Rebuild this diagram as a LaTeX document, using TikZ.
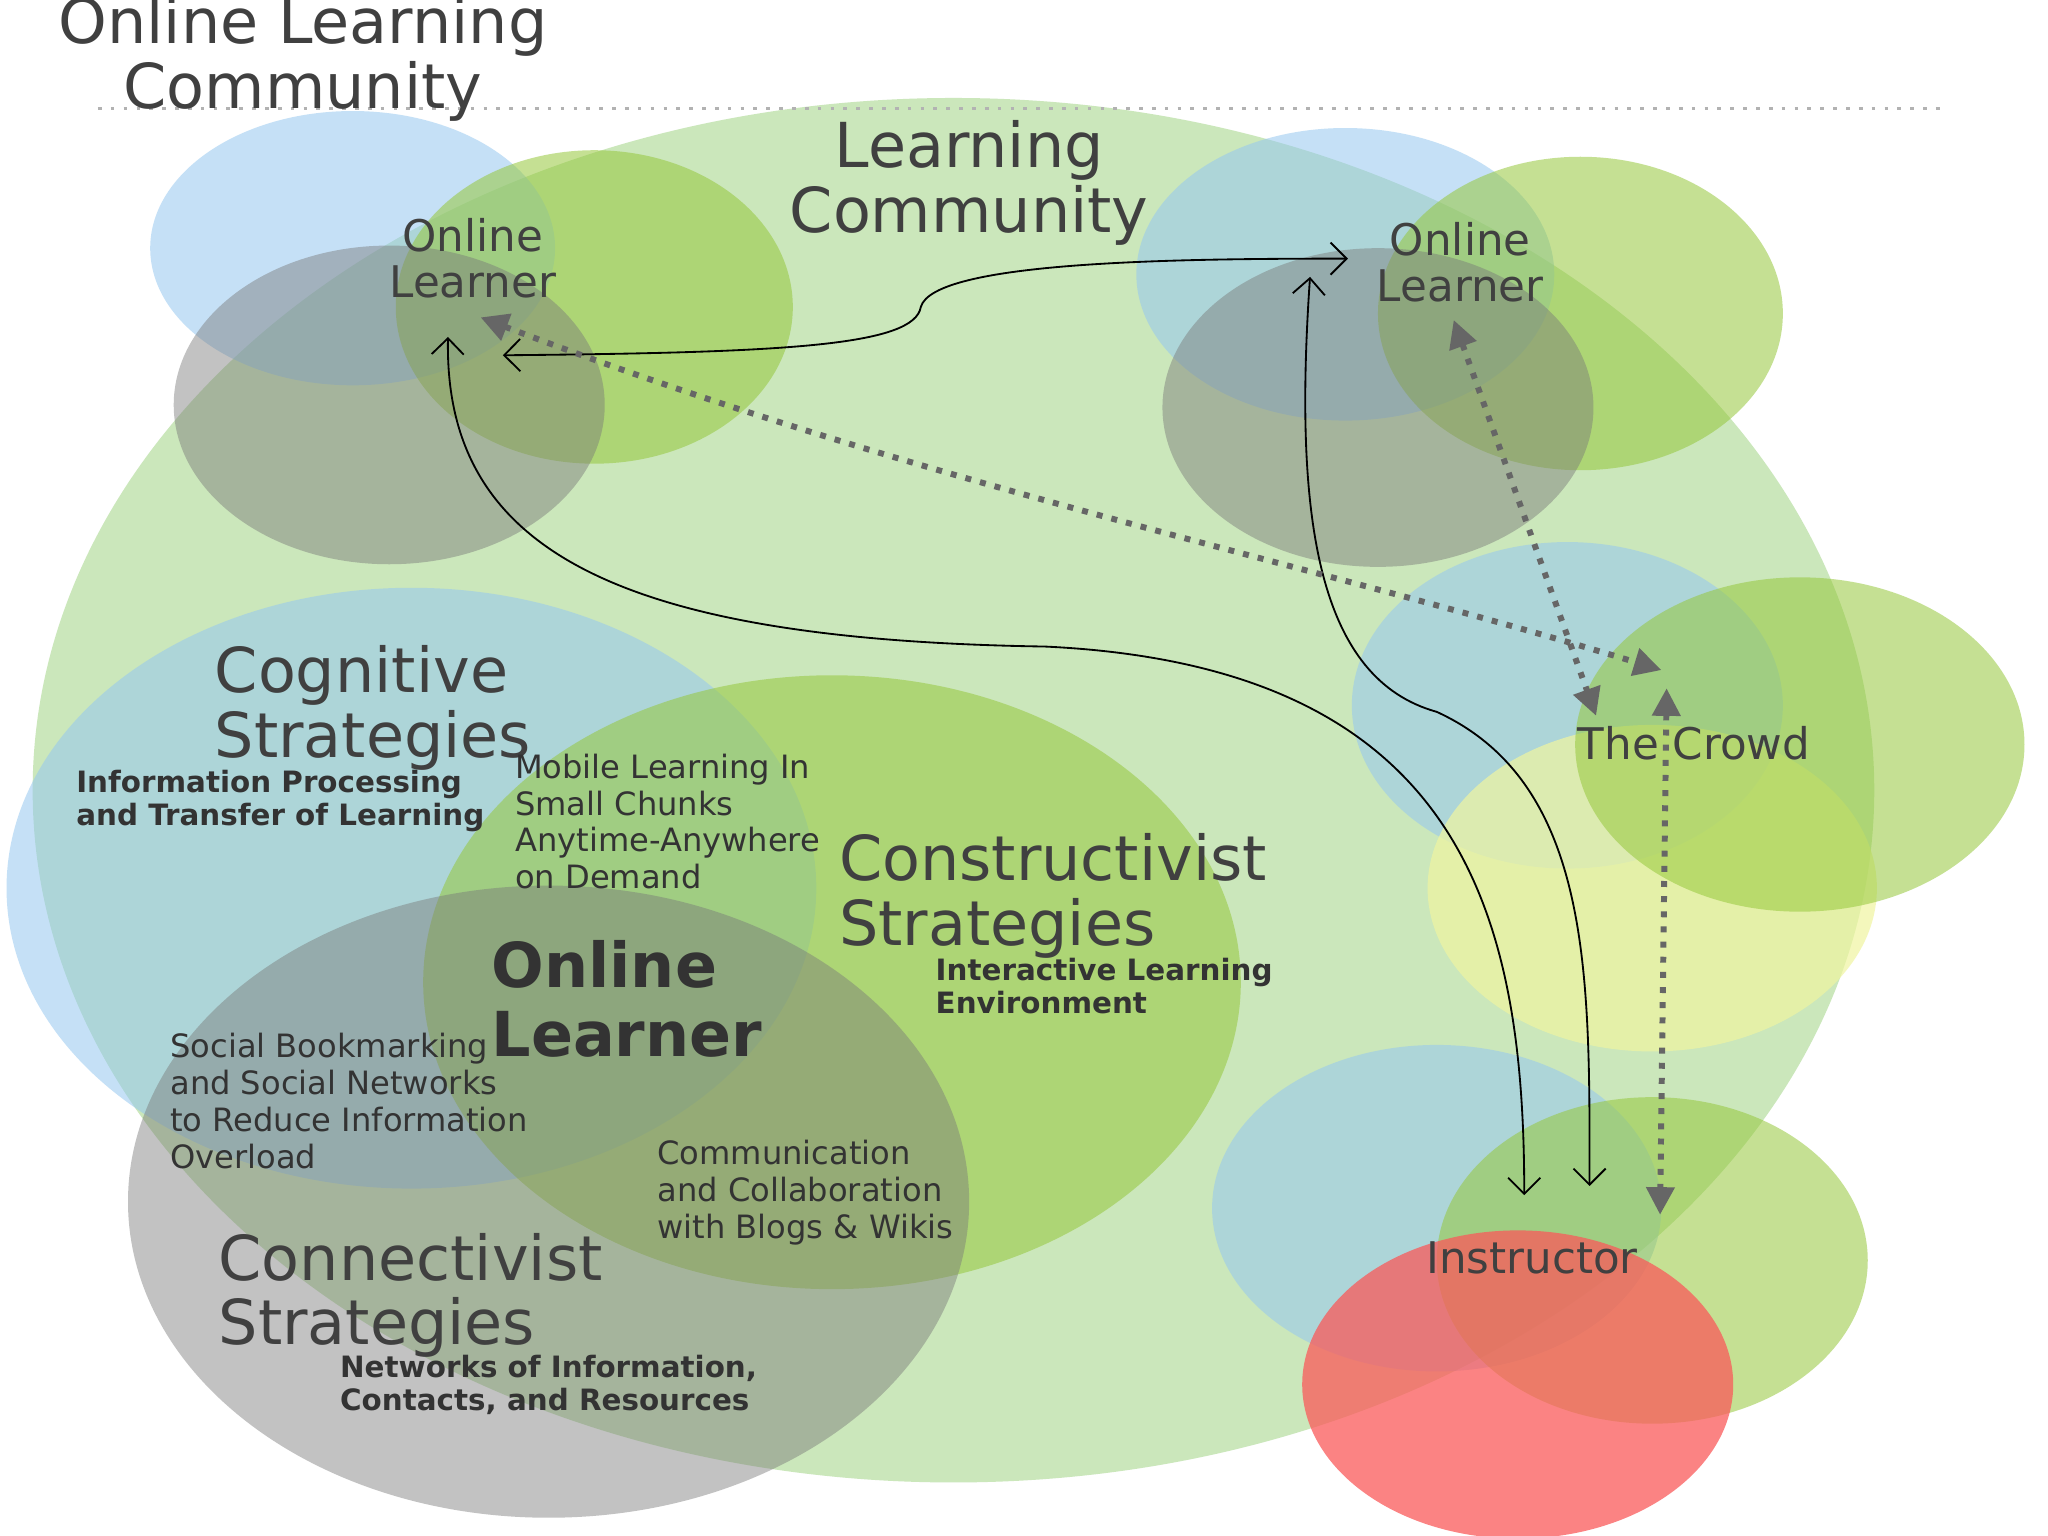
\documentclass[tikz,border=0pt]{standalone}
\usepackage{fontspec}
\setmainfont{DejaVu Sans}
\usetikzlibrary{arrows.meta}
\definecolor{cbg}{RGB}{190,225,170}
\definecolor{cblu}{RGB}{150,200,240}
\definecolor{cgrn}{RGB}{150,200,60}
\definecolor{cgry}{RGB}{120,120,120}
\definecolor{cyel}{RGB}{240,245,160}
\definecolor{cred}{RGB}{250,90,90}
\begin{document}
\begin{tikzpicture}[x=0.1mm,y=-0.1mm,
 blu/.style={fill=cblu,fill opacity=0.55,draw=none},
 grn/.style={fill=cgrn,fill opacity=0.55,draw=none},
 gry/.style={fill=cgry,fill opacity=0.45,draw=none},
 yel/.style={fill=cyel,fill opacity=0.7,draw=none},
 red/.style={fill=cred,fill opacity=0.75,draw=none},
 big/.style={font=\fontsize{13.5}{14}\selectfont,text=black!75,align=left},
 mid/.style={font=\fontsize{9.5}{10}\selectfont,text=black!75,align=left},
 sm/.style={font=\fontsize{7}{8}\selectfont,text=black!80,align=left},
 smb/.style={font=\bfseries\fontsize{6.4}{7.2}\selectfont,text=black!80,align=left},
 sol/.style={{Straight Barb[length=3.5pt]}-{Straight Barb[length=3.5pt]},black,thin},
 dot/.style={{Triangle[length=6pt,width=6pt]}-{Triangle[length=6pt,width=6pt]},gray!80!black,line width=1.3pt,dotted}]
\useasboundingbox (0,0) rectangle (1568,1176);
\fill[white] (0,0) rectangle (1568,1176);
\fill[cbg,fill opacity=0.8] (730,605) ellipse [x radius=705,y radius=530];
\draw[gray!60,dotted,thick] (75,83) -- (1490,83);
% top-left
\fill[blu] (270,190) ellipse [x radius=155,y radius=105];
\fill[grn] (455,235) ellipse [x radius=152,y radius=120];
\fill[gry] (298,310) ellipse [x radius=165,y radius=122];
% top-right
\fill[blu] (1030,210) ellipse [x radius=160,y radius=112];
\fill[grn] (1210,240) ellipse [x radius=155,y radius=120];
\fill[gry] (1055,312) ellipse [x radius=165,y radius=122];
% crowd
\fill[blu] (1200,540) ellipse [x radius=165,y radius=125];
\fill[yel] (1265,680) ellipse [x radius=172,y radius=125];
\fill[grn] (1378,570) ellipse [x radius=172,y radius=128];
% instructor
\fill[blu] (1100,925) ellipse [x radius=172,y radius=125];
\fill[grn] (1265,965) ellipse [x radius=165,y radius=125];
\fill[red] (1162,1060) ellipse [x radius=165,y radius=118];
% strategies
\fill[blu] (315,680) ellipse [x radius=310,y radius=230];
\fill[grn] (637,752) ellipse [x radius=313,y radius=235];
\fill[gry] (420,920) ellipse [x radius=322,y radius=242];
% texts
\node[big,align=center] (t) at (232,45) {Online Learning\\Community};
\node[big,align=center] (lc) at (742,140) {Learning\\Community};
\node[mid,align=center] (ol1) at (362,198) {Online\\Learner};
\node[mid,align=center] (ol2) at (1118,201) {Online\\Learner};
\node[mid] (cr) at (1297,569) {The Crowd};
\node[mid] (ins) at (1173,963) {Instructor};
\node[big,anchor=west] (cog) at (152,542) {Cognitive\\Strategies};
\node[smb,anchor=west] at (46,613) {Information Processing\\and Transfer of Learning};
\node[sm,anchor=west] at (382,629) {Mobile Learning In\\Small Chunks\\Anytime-Anywhere\\on Demand};
\node[big,anchor=west] (con) at (630,686) {Constructivist\\Strategies};
\node[smb,anchor=west] at (704,755) {Interactive Learning\\Environment};
\node[font=\bfseries\fontsize{13.5}{15}\selectfont,text=black!80,align=left,anchor=west] (ol) at (364,765) {Online\\Learner};
\node[sm,anchor=west] at (118,843) {Social Bookmarking\\and Social Networks\\to Reduce Information\\Overload};
\node[sm,anchor=west] at (491,913) {Communication\\and Collaboration\\with Blogs \& Wikis};
\node[big,anchor=west] (cnn) at (155,992) {Connectivist\\Strategies};
\node[smb,anchor=west] at (248,1060) {Networks of Information,\\Contacts, and Resources};
% connectors
\coordinate (a1) at (385,272); \coordinate (a2) at (1032,198);
\coordinate (b1) at (343,258); \coordinate (b2) at (1167,915);
\coordinate (c1) at (1003,212); \coordinate (c2) at (1217,908);
\coordinate (d1) at (368,243); \coordinate (d2) at (1272,513);
\coordinate (e1) at (1113,245); \coordinate (e2) at (1222,548);
\coordinate (f1) at (1276,527); \coordinate (f2) at (1271,930);
\draw[sol] (a1) .. controls (600,270) and (700,265) .. (705,235) .. controls (715,200) and (900,198) .. (a2);
\draw[sol] (b1) .. controls (340,420) and (470,490) .. (800,495) .. controls (1120,510) and (1167,700) .. (b2);
\draw[sol] (c1) .. controls (990,400) and (1010,520) .. (1100,545) .. controls (1220,600) and (1217,750) .. (c2);
\draw[dot] (d1) .. controls (700,370) and (1000,430) .. (d2);
\draw[dot] (e1) -- (e2);
\draw[dot] (f1) -- (f2);
\end{tikzpicture}
\end{document}
